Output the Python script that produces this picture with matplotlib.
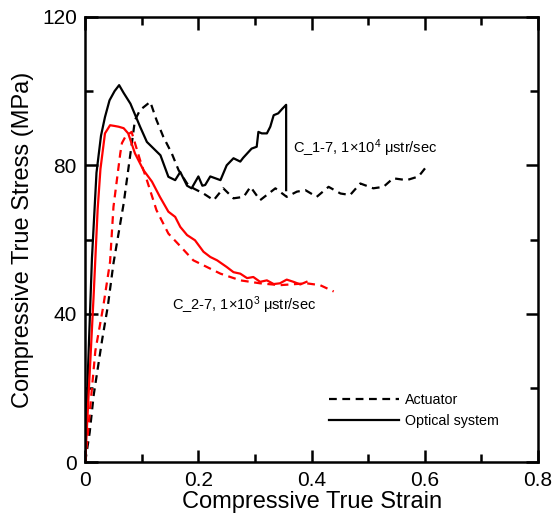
import matplotlib
matplotlib.use("Agg")
import matplotlib.pyplot as plt
from matplotlib.ticker import MultipleLocator

plt.rcParams['font.family'] = ['Liberation Sans', 'DejaVu Sans']
plt.rcParams['mathtext.fontset'] = 'custom'
plt.rcParams['mathtext.rm'] = 'Liberation Sans'
plt.rcParams['mathtext.it'] = 'Liberation Sans:italic'

# C_1-7 optical system (black solid)
c17_opt_x = [0, 0.005, 0.012, 0.02, 0.028, 0.035, 0.043, 0.052, 0.060, 0.068, 0.080, 0.097,
             0.109, 0.133, 0.147, 0.159, 0.168, 0.180, 0.188, 0.200, 0.207, 0.212, 0.221,
             0.239, 0.250, 0.262, 0.274, 0.279, 0.294, 0.303, 0.306, 0.312, 0.321, 0.327,
             0.333, 0.341, 0.348, 0.355, 0.355]
c17_opt_y = [0, 25, 55, 78, 88, 93, 97.5, 100, 101.6, 99.5, 96.6, 90.4,
             86.3, 82.7, 76.9, 76.0, 78.2, 74.5, 73.8, 77.0, 74.5, 74.7, 77.0,
             76.0, 80.0, 81.9, 81.0, 82.0, 84.5, 85.0, 89.0, 88.6, 88.6, 90.4,
             93.5, 94.0, 95.2, 96.3, 73.3]

# C_1-7 actuator (black dashed)
c17_act_x = [0, 0.008, 0.015, 0.03, 0.04, 0.050, 0.068, 0.080, 0.088, 0.097, 0.115, 0.126,
             0.138, 0.153, 0.165, 0.180, 0.191, 0.209, 0.227, 0.244, 0.262, 0.280, 0.292,
             0.309, 0.336, 0.356, 0.374, 0.389, 0.409, 0.430, 0.451, 0.468, 0.486, 0.509,
             0.527, 0.544, 0.568, 0.589, 0.603]
c17_act_y = [0, 8, 18, 33, 42, 53.6, 69.7, 83.2, 92.2, 94.9, 97.1, 92.2,
             87.7, 83.2, 78.7, 75.1, 73.8, 72.4, 70.6, 73.8, 71.1, 71.5, 74.2,
             70.6, 73.8, 71.5, 72.9, 73.3, 71.5, 74.2, 72.4, 72.0, 75.1, 73.8,
             74.2, 76.5, 76.0, 77.0, 79.7]

# C_2-7 optical system (red solid)
c27_opt_x = [0, 0.005, 0.015, 0.022, 0.027, 0.035, 0.044, 0.052, 0.059, 0.068, 0.076, 0.088,
             0.103, 0.118, 0.132, 0.147, 0.159, 0.168, 0.180, 0.194, 0.209, 0.221, 0.233,
             0.250, 0.262, 0.274, 0.286, 0.297, 0.309, 0.321, 0.333, 0.344, 0.356, 0.368,
             0.380, 0.391]
c27_opt_y = [0, 15, 45, 68, 79, 88.6, 90.8, 90.6, 90.4, 90.0, 88.6, 83.2,
             78.7, 75.6, 71.5, 67.5, 66.1, 63.4, 61.2, 59.8, 56.7, 55.3, 54.4,
             52.6, 51.2, 50.8, 49.6, 49.9, 48.6, 49.0, 48.0, 48.2, 49.2, 48.6,
             47.9, 48.6]

# C_2-7 actuator (red dashed)
c27_act_x = [0, 0.005, 0.012, 0.018, 0.032, 0.044, 0.050, 0.056, 0.062, 0.065, 0.071, 0.082,
             0.097, 0.109, 0.126, 0.147, 0.168, 0.191, 0.215, 0.239, 0.274, 0.309, 0.344,
             0.391, 0.415, 0.439]
c27_act_y = [0, 8, 20, 30, 42, 54, 68.8, 76, 83.2, 86, 87.7, 89.0,
             81.4, 76.0, 67.9, 61.6, 58.2, 54.4, 52.6, 50.8, 49.0, 48.2, 47.7,
             48.2, 47.7, 46.0]

fig = plt.figure(figsize=(5.53, 5.27), dpi=100)
ax = fig.add_axes([0.154, 0.123, 0.819, 0.845])

lw = 1.6
dash = (3.5, 2.5)
ax.plot(c17_act_x, c17_act_y, color='black', lw=lw, dashes=dash, label='Actuator')
ax.plot(c17_opt_x, c17_opt_y, color='black', lw=lw, label='Optical system')
ax.plot(c27_act_x, c27_act_y, color='red', lw=lw, dashes=dash)
ax.plot(c27_opt_x, c27_opt_y, color='red', lw=lw)

ax.set_xlim(0, 0.8)
ax.set_ylim(0, 120)
ax.xaxis.set_major_locator(MultipleLocator(0.2))
ax.xaxis.set_minor_locator(MultipleLocator(0.1))
ax.yaxis.set_major_locator(MultipleLocator(40))
ax.yaxis.set_minor_locator(MultipleLocator(20))
ax.set_xticks([0, 0.2, 0.4, 0.6, 0.8])
ax.set_xticklabels(['0', '0.2', '0.4', '0.6', '0.8'])
ax.tick_params(which='both', direction='in', top=True, right=True, width=1.8, labelsize=15, pad=6)
ax.tick_params(which='major', length=9)
ax.tick_params(which='minor', length=6)
for s in ax.spines.values():
    s.set_linewidth(1.8)

ax.set_xlabel('Compressive True Strain', fontsize=17, labelpad=1)
ax.set_ylabel('Compressive True Stress (MPa)', fontsize=17, labelpad=6)

ax.text(0.367, 84.6, 'C_1-7, 1\u00d710$^4$ \u03bcstr/sec', fontsize=10.5, va='center', ha='left')
ax.text(0.154, 42.3, 'C_2-7, 1\u00d710$^3$ \u03bcstr/sec', fontsize=10.5, va='center', ha='left')

ax.legend(loc='lower left', bbox_to_anchor=(0.51, 0.048), frameon=False, fontsize=10.3,
          handlelength=4.9, handletextpad=0.4, labelspacing=0.45)

fig.savefig('out.png', dpi=100)
